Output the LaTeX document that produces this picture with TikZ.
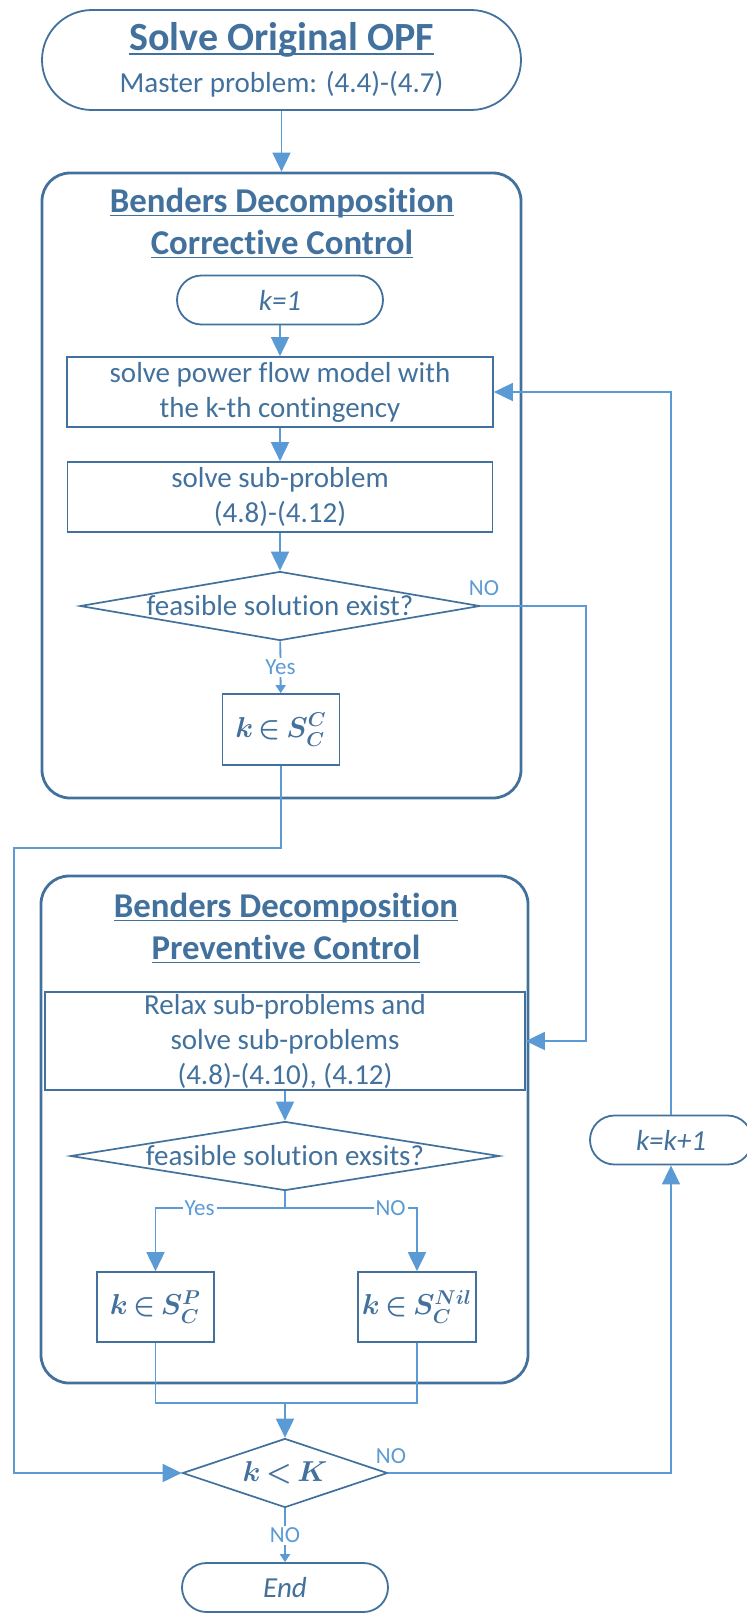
\documentclass[tikz,border=0pt]{standalone}
\usepackage{fontspec}
\setmainfont{Carlito}[Ligatures=NoCommon, RawFeature={-liga;-calt;-dlig}]
\usepackage{amsmath}
\usetikzlibrary{shapes.geometric, arrows.meta}

\definecolor{boxblue}{HTML}{41719C}
\definecolor{lineblue}{HTML}{5B9BD5}

% underline at a fixed depth, in the current colour
\newcommand{\ulbar}[1]{\setbox0\hbox{#1}\rlap{\rule[-2pt]{\wd0}{0.8pt}}\box0}
% bold set membership labels
\newcommand{\setlbl}[1]{\fontsize{14.4}{17}\selectfont\thickmuskip=3mu$\boldsymbol{#1}$}

\tikzset{
  every node/.style={text=boxblue},
  terminal/.style={draw=boxblue, line width=0.9pt, rounded corners=12.25pt,
    minimum height=24.5pt, font=\fontsize{14.5}{17.5}\selectfont\itshape},
  procbox/.style={draw=boxblue, line width=0.85pt, align=center, inner sep=0pt,
    font=\fontsize{14.5}{17.5}\selectfont},
  dectext/.style={font=\fontsize{14.5}{17.5}\selectfont, inner sep=0pt},
  decision/.style={diamond, draw=boxblue, line width=0.85pt, inner sep=0pt},
  groupbox/.style={draw=boxblue, line width=1.4pt, rounded corners=14pt},
  grouptitle/.style={align=center, font=\fontsize{17.4}{21}\selectfont\bfseries},
  conn/.style={draw=lineblue, line width=0.9pt, -{Triangle[length=9.5pt,width=9pt]}},
  tick/.style={draw=lineblue, line width=0.9pt, -{Triangle[length=4pt,width=5pt]}},
  flag/.style={text=lineblue, font=\fontsize{11.5}{13}\selectfont, fill=white, inner sep=1pt},
}

\begin{document}
\begin{tikzpicture}[x=0.5pt, y=-0.5pt]
\useasboundingbox (0,0) rectangle (747,1614);

% master problem
\node[draw=boxblue, line width=0.9pt, rounded corners=25pt, minimum width=239.5pt,
  minimum height=50pt, align=center, font=\fontsize{14.5}{21}\selectfont]
  (start) at (281.5,60)
  {{\fontsize{20}{21}\selectfont\bfseries\ulbar{Solve Original OPF}}\\
   Master problem: (4.4)-(4.7)};

% corrective control block
\node[groupbox, minimum width=239.5pt, minimum height=312.5pt] (corr) at (281.5,485.5) {};
\node[grouptitle] (corrtitle) at (282,223)
  {\ulbar{Benders Decomposition}\\ \ulbar{Corrective Control}};
\node[terminal, minimum width=103pt] (k1) at (280,300) {k=1};
\node[procbox, minimum width=213pt, minimum height=35pt] (proc1) at (280,392)
  {solve power flow model with\\ the k-th contingency};
\node[procbox, minimum width=212.5pt, minimum height=35pt] (proc2) at (280,497)
  {solve sub-problem\\ (4.8)-(4.12)};
\node[decision, minimum width=200pt, minimum height=34.5pt] (feas1) at (280,606) {};
\node[dectext] (feas1txt) at (feas1) {feasible solution exist?};
\node[procbox, minimum width=58.5pt, minimum height=35.5pt] (kSC) at (281,729.5)
  {\setlbl{k\in S_C^{C}}};

% preventive control block
\node[groupbox, minimum width=243.5pt, minimum height=253.5pt] (prev) at (284.5,1129.5) {};
\node[grouptitle] (prevtitle) at (286,928)
  {\ulbar{Benders Decomposition}\\ \ulbar{Preventive Control}};
\node[procbox, minimum width=240pt, minimum height=49pt] (relax) at (285,1041)
  {Relax sub-problems and\\ solve sub-problems\\ (4.8)-(4.10), (4.12)};
\node[decision, minimum width=214.5pt, minimum height=34.5pt] (feas2) at (285,1156) {};
\node[dectext] (feas2txt) at (feas2) {feasible solution exsits?};
\node[procbox, minimum width=58.5pt, minimum height=35pt] (kSP) at (155.5,1307)
  {\setlbl{k\in S_C^{P}}};
\node[procbox, minimum width=59pt, minimum height=35pt] (kSNil) at (417,1307)
  {\setlbl{k\in S_C^{Nil}}};

% loop test and end
\node[decision, minimum width=102.5pt, minimum height=34.5pt] (ktest) at (285,1473) {};
\node[dectext] (ktesttxt) at (ktest) {\setlbl{k<K}};
\node[terminal, minimum width=81pt] (knext) at (671,1140) {k=k+1};
\node[terminal, minimum width=103pt] (finish) at (285,1587.5) {End};

\coordinate (rpass) at (586,606);
\coordinate (lpass) at (14,848);
\coordinate (fork) at (285,1208);
\coordinate (merge) at (285,1403);

% connectors
\draw[conn] (start) -- (corr);
\draw[conn] (k1) -- (proc1);
\draw[conn] (proc1) -- (proc2);
\draw[conn] (proc2) -- (feas1);
\draw[tick] (feas1) -- node[flag] (yes1) {Yes} (kSC);
\draw[conn] (feas1) -- (rpass) |- (relax);
\node[flag, fill=none, inner sep=0pt] (no1) at (484,588) {NO};
\draw[conn] (kSC) |- (lpass) |- (ktest);
\draw[conn] (relax) -- (feas2);
\draw[conn] (feas2) -- (fork) -| node[flag, pos=0.33] (yes2) {Yes} (kSP);
\draw[conn] (feas2) -- (fork) -| node[flag, pos=0.4] (no2) {NO} (kSNil);
\draw[draw=lineblue, line width=0.9pt] (kSP) |- (merge);
\draw[draw=lineblue, line width=0.9pt] (kSNil) |- (merge);
\draw[conn] (merge) -- (ktest);
\draw[conn] (ktest) -| (knext);
\node[flag, fill=none, inner sep=0pt] (no3) at (391,1456) {NO};
\draw[conn] (knext) |- (proc1);
\draw[tick] (ktest) -- node[flag] (no4) {NO} (finish);
\end{tikzpicture}
\end{document}
